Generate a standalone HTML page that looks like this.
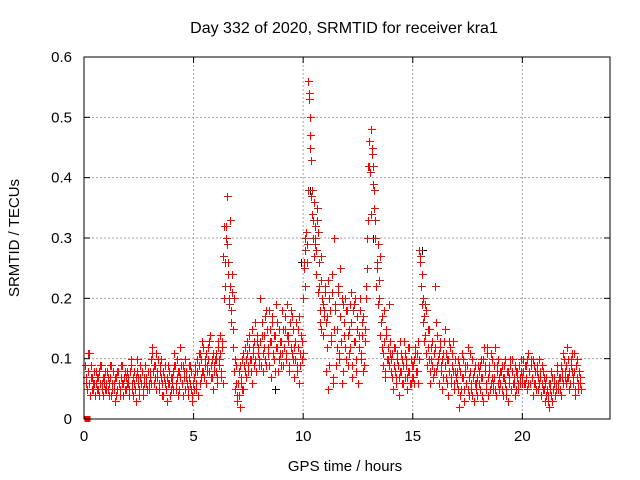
<!DOCTYPE html>
<html><head><meta charset="utf-8"><style>
html,body{margin:0;padding:0;background:#fff;}
svg{display:block;font-family:"Liberation Sans",sans-serif;}
</style></head><body>
<svg id="chart" width="640" height="480">
<text x="344" y="33" font-size="16" text-anchor="middle">Day 332 of 2020, SRMTID for receiver kra1</text>
<text x="345" y="471" font-size="15" text-anchor="middle">GPS time / hours</text>
<text transform="translate(19,238) rotate(-90)" font-size="15" text-anchor="middle">SRMTID / TECUs</text>
<g id="grid"></g>
<g id="ticks"></g>
<g id="black" shape-rendering="crispEdges"></g>
<g id="red" shape-rendering="crispEdges"></g>
<rect x="84" y="57" width="526" height="362" fill="none" stroke="#000" stroke-width="1"/>
</svg>
<script>
const xTicks = [0, 5, 10, 15, 20];
const yTicks = [0, 0.1, 0.2, 0.3, 0.4, 0.5, 0.6];
const yTickLabels = ["0", "0.1", "0.2", "0.3", "0.4", "0.5", "0.6"];
// red series: values (0.01 TECU) sampled within each hour
const redHours = [
[9,6,5,11,11,7,5,6,8,4,6,7,5,8,9,6,4,7,5,6],
[6,8,5,4,7,9,5,6,3,7,5,8,6,4,7,9,6,5,7,8],
[6,4,8,10,5,7,6,3,8,7,5,9,6,8,4,7,9,6,8,5],
[7,10,12,8,6,9,11,7,5,8,10,6,4,7,9,5,3,6,8,5],
[6,8,11,9,5,7,4,8,12,6,9,7,5,8,6,4,7,9,5,3],
[5,8,6,10,4,9,11,7,13,8,10,6,9,12,8,14,7,10,5,9],
[8,11,6,13,10,14,7,12,27,32,22,30,37,26,20,33,18,24,15,20,10,6],
[3,8,2,6,10,5,9,12,7,11,8,14,10,6,12,9,16,8,13,11],
[10,20,14,8,12,17,9,15,11,18,13,7,16,10,14,19,12,8,15,11],
[13,18,9,15,11,19,14,8,16,12,17,10,7,13,9,15,6,11,14,10],
[20,26,30,31,29,56,54,50,45,43,38,33,36,30,28,35,31,22,18,27,15,20,19,17],
[21,8,17,5,20,13,24,6,30,18,9,15,21,11,25,6,19,14,20,10],
[18,9,15,12,21,7,19,13,10,17,6,14,20,11,16,8,13,20,30,42],
[46,41,48,45,42,38,33,25,29,20,27,16,12,9,18,7,14,10,19,11],
[8,11,5,9,12,7,10,4,8,11,6,9,13,7,10,5,8,12,6,9],
[7,10,12,8,11,6,28,27,24,20,17,14,18,9,12,15,6,10,13,8],
[22,8,14,10,6,12,9,5,11,15,7,10,4,8,12,6,9,13,5,8],
[6,10,2,8,5,11,7,3,9,6,12,4,8,5,10,7,3,9,6,4],
[8,5,10,7,3,12,9,6,11,4,8,6,10,5,7,12,4,9,6,7],
[6,9,4,7,10,5,8,3,7,9,5,10,6,4,8,7,5,9,6,8],
[7,10,6,9,5,11,8,6,10,7,4,9,6,8,5,10,7,4,6,8],
[5,3,7,4,2,6,8,3,5,7,4,6,9,5,7,4,8,6,10,7],
[9,12,7,5,10,8,6,11,4,9,7,5,8,6]
];
// second interleaved red pass
const redHours2 = [
[7,5,8,6,4,9,7,5,6,8,5,7,4,6,9,5,7,6,8,5],
[5,7,6,9,4,6,8,5,7,4,8,6,5,9,6,4,7,8,5,6],
[7,5,9,6,4,8,5,7,10,6,4,7,8,5,6,9,7,5,8,6],
[8,6,11,9,7,5,8,10,6,9,7,4,8,6,5,7,9,6,4,7],
[7,5,9,6,10,8,5,7,9,6,4,8,10,7,5,9,6,8,4,6],
[7,9,5,8,11,6,10,8,12,7,9,11,8,10,13,9,7,11,8,10],
[10,7,12,9,11,8,13,6,20,26,32,29,24,19,22,16,21,12,8,5,9,4],
[6,4,9,7,5,11,8,10,13,9,12,10,8,15,11,13,10,14,12,9],
[13,9,16,11,14,10,18,12,9,15,13,17,11,14,8,12,16,10,13,9],
[11,15,12,17,10,14,13,9,18,11,15,12,10,16,8,12,17,9,13,11],
[25,22,28,31,26,38,53,47,37,34,30,27,32,29,24,33,21,26,16,23,20,14,18,22],
[16,12,23,9,18,14,21,7,15,19,12,22,10,17,13,20,8,16,12,18],
[14,11,19,16,9,18,13,20,8,15,12,18,10,14,17,9,15,22,25,33],
[42,34,44,39,35,30,22,26,19,23,14,17,11,13,8,15,10,12,9,13],
[10,7,12,8,6,11,9,7,13,8,10,6,11,9,7,12,8,6,10,7],
[9,6,11,8,13,10,26,22,19,16,13,19,11,15,10,8,12,9,7,11],
[12,16,9,11,13,8,10,7,13,9,11,6,10,13,7,11,8,6,10,7],
[8,5,9,4,7,10,5,8,6,9,5,7,11,6,4,8,6,5,7,9],
[6,9,7,4,10,8,5,12,7,9,5,11,7,6,9,5,8,10,5,8],
[8,5,7,9,6,4,8,6,10,5,8,6,7,9,5,8,6,7,10,6],
[8,6,9,7,10,6,8,9,7,10,6,8,5,9,7,6,8,9,5,7],
[6,4,5,3,6,5,4,7,6,4,5,8,6,7,5,9,7,11,8,6],
[7,10,8,6,9,11,7,8,5,10,6,8,7,5]
];
const blackTimes = [6.5, 9.9, 10.3, 10.35, 13.0, 13.2, 15.4, 8.7];
const blackValues = [0.32, 0.26, 0.38, 0.37, 0.46, 0.30, 0.28, 0.05];

const X0 = 84, X1 = 610, Y0 = 419, Y1 = 57;
const xMax = 24, yMax = 0.6;
function sx(v){ return X0 + v / xMax * (X1 - X0); }
function sy(v){ return Y0 - v / yMax * (Y0 - Y1); }
const NS = "http://www.w3.org/2000/svg";
function mk(tag, attrs, parent){ const e = document.createElementNS(NS, tag); for (const k in attrs) e.setAttribute(k, attrs[k]); parent.appendChild(e); return e; }
const grid = document.getElementById('grid'), ticks = document.getElementById('ticks');
xTicks.forEach(t => {
  const x = sx(t);
  if (t > 0) { const g = mk('line', {x1:x, y1:Y0, x2:x, y2:Y1, stroke:'#a0a0a0', 'stroke-dasharray':'2,2'}, grid);
    
     }
  mk('line', {x1:x, y1:Y0, x2:x, y2:Y0-6, stroke:'#000'}, ticks);
  mk('line', {x1:x, y1:Y1, x2:x, y2:Y1+6, stroke:'#000'}, ticks);
  const l = mk('text', {x:x, y:Y0+22, 'font-size':15, 'text-anchor':'middle'}, ticks);
  l.textContent = String(t);
  
  
});
yTicks.forEach((t, i) => {
  const y = sy(t);
  if (t > 0) { const g = mk('line', {x1:X0, y1:y, x2:X1, y2:y, stroke:'#a0a0a0', 'stroke-dasharray':'2,2'}, grid);
    
     }
  mk('line', {x1:X0, y1:y, x2:X0+6, y2:y, stroke:'#000'}, ticks);
  mk('line', {x1:X1, y1:y, x2:X1-6, y2:y, stroke:'#000'}, ticks);
  const l = mk('text', {x:X0-12, y:y+5, 'font-size':15, 'text-anchor':'end'}, ticks);
  l.textContent = yTickLabels[i];
  
  
});
function plus(g, t, v, color){
  const x = Math.round(sx(t)) + 0.5, y = Math.round(sy(v)) + 0.5;
  const p = mk('path', {d:`M${x-3.5},${y}H${x+4.5}M${x},${y-3.5}V${y+4.5}`, fill:'none'}, g);
  p.setAttribute('style', 'stroke:' + color + ';stroke-width:1');
  
  
}
const bg = document.getElementById('black');
blackTimes.forEach((t, i) => plus(bg, t, blackValues[i], '#000000'));
const rg = document.getElementById('red');
function drawHours(hours, offset){
  hours.forEach((arr, h) => {
    const step = 1 / Math.max(arr.length, 20);
    arr.forEach((v, i) => plus(rg, h + (i + offset) * step + (h === 0 ? 0.05 : 0), v / 100, '#ff0000'));
  });
}
drawHours(redHours, 0);
drawHours(redHours2, 0.5);
const sq = mk('rect', {x:sx(0.15)-3, y:Y0-3, width:6, height:6}, rg);
sq.setAttribute('style', 'fill:#ff0000');


</script>
</body></html>
